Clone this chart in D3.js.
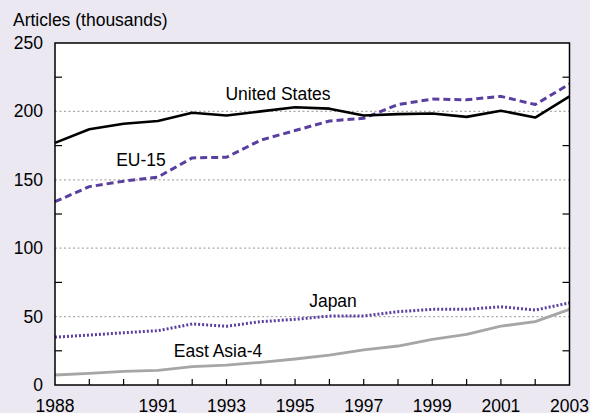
<!DOCTYPE html>
<html lang="en">
<head>
  <meta charset="UTF-8">
  <title>Articles</title>
  <style>
    body { margin: 0; background: #ebe8f2; }
    svg { display: block; font-family: "Liberation Sans", Arial, sans-serif; }
  </style>
</head>
<body>
  <svg></svg>
  <script src="https://cdn.jsdelivr.net/npm/d3@7"></script>
  <script>
    // data
    var years = d3.range(1988, 2004);
    var unitedStates = [177, 187, 191, 193, 199, 197, 200, 203, 202, 197, 198, 198.5, 196, 200.5, 195.5, 211];
    var eu15 = [134, 145, 149, 152, 166, 166.5, 179, 186, 193, 195, 205, 209, 208.5, 211, 205, 220];
    var japan = [35, 36.5, 38.2, 39.7, 44.6, 43, 46.3, 48, 50.4, 50.4, 53.6, 55.3, 55.3, 57.2, 54.8, 60];
    var eastAsia4 = [7.3, 8.5, 10, 10.7, 13.4, 14.6, 16.6, 19, 21.9, 25.6, 28.5, 33.4, 37, 43, 46.3, 55.3];
    var yTicks = [0, 50, 100, 150, 200, 250];
    var xLabels = [1988, 1991, 1993, 1995, 1997, 1999, 2001, 2003];

    var width = 590, height = 413;
    var svg = d3.select("svg").attr("width", width).attr("height", height);

    var x = d3.scaleLinear().domain([1988, 2003]).range([55, 569.5]);
    var y = d3.scaleLinear().domain([0, 250]).range([385, 43]);

    // plot area
    svg.append("rect")
      .attr("x", x(1988)).attr("y", y(250))
      .attr("width", x(2003) - x(1988)).attr("height", y(0) - y(250))
      .attr("fill", "#fff");

    // grid
    svg.append("g")
      .selectAll("line")
      .data([50, 100, 150, 200])
      .join("line")
      .attr("x1", x(1988)).attr("x2", x(2003))
      .attr("y1", d => y(d)).attr("y2", d => y(d))
      .attr("stroke", "#aaa")
      .attr("stroke-width", 1.2)
      .attr("stroke-dasharray", "2,2.5");

    // inner ticks on the sides
    var minor = [25, 75, 125, 175, 225];
    svg.append("g").selectAll("line").data(minor).join("line")
      .attr("x1", x(1988)).attr("x2", x(1988) + 7)
      .attr("y1", d => y(d)).attr("y2", d => y(d))
      .attr("stroke", "#000").attr("stroke-width", 1.2);
    svg.append("g").selectAll("line").data(minor).join("line")
      .attr("x1", x(2003) - 7).attr("x2", x(2003))
      .attr("y1", d => y(d)).attr("y2", d => y(d))
      .attr("stroke", "#000").attr("stroke-width", 1.2);
    svg.append("g").selectAll("line").data(years.slice(1, -1)).join("line")
      .attr("x1", d => x(d)).attr("x2", d => x(d))
      .attr("y1", y(0)).attr("y2", y(0) - 6)
      .attr("stroke", "#000").attr("stroke-width", 1.2);

    // series
    var line = d3.line()
      .x((d, i) => x(years[i]))
      .y(d => y(d));

    var series = [
      { values: eastAsia4, color: "#a6a6a6", dash: null, w: 2.8 },
      { values: japan, color: "#5b3fa0", dash: "2,2", w: 3 },
      { values: eu15, color: "#5b3fa0", dash: "7,4", w: 3 },
      { values: unitedStates, color: "#000", dash: null, w: 2.6 }
    ];
    svg.append("g").selectAll("path").data(series).join("path")
      .attr("d", d => line(d.values))
      .attr("fill", "none")
      .attr("stroke", d => d.color)
      .attr("stroke-width", d => d.w)
      .attr("stroke-linejoin", "round")
      .attr("stroke-dasharray", d => d.dash);

    // frame
    svg.append("rect")
      .attr("x", x(1988)).attr("y", y(250))
      .attr("width", x(2003) - x(1988)).attr("height", y(0) - y(250))
      .attr("fill", "none").attr("stroke", "#000").attr("stroke-width", 1.5);

    // axis labels
    svg.append("g").selectAll("text").data(yTicks).join("text")
      .attr("x", 43).attr("y", d => y(d) + 6)
      .attr("text-anchor", "end")
      .attr("font-size", 17.5)
      .text(d => d);
    svg.append("g").selectAll("text").data(xLabels).join("text")
      .attr("x", d => x(d)).attr("y", 411.5)
      .attr("text-anchor", "middle")
      .attr("font-size", 17.5)
      .text(d => d);

    svg.append("text")
      .attr("x", 13).attr("y", 26)
      .attr("font-size", 17.5)
      .text("Articles (thousands)");

    // series labels
    var labels = [
      { text: "United States", x: 278, y: 100 },
      { text: "EU-15", x: 141, y: 166 },
      { text: "Japan", x: 333, y: 307 },
      { text: "East Asia-4", x: 218, y: 357 }
    ];
    svg.append("g").selectAll("text").data(labels).join("text")
      .attr("x", d => d.x).attr("y", d => d.y)
      .attr("text-anchor", "middle")
      .attr("font-size", 17.5)
      .text(d => d.text);
  </script>
</body>
</html>
